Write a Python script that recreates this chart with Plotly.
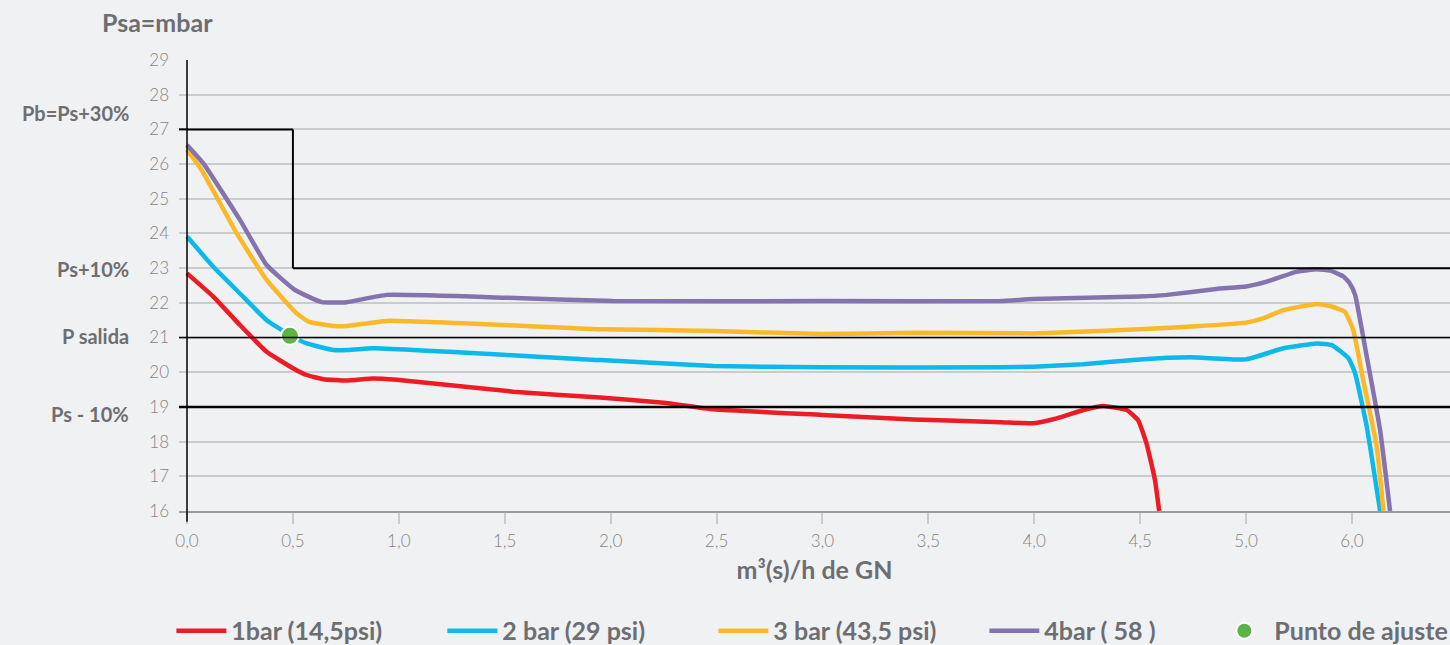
import plotly.graph_objects as go

# ---- data (x in plotted axis units; tick labels below) ----
x_tick_vals = [0, 0.5, 1.0, 1.5, 2.0, 2.5, 3.0, 3.5, 4.0, 4.5, 5.0, 5.5]
x_tick_text = ["0,0", "0,5", "1,0", "1,5", "2,0", "2,5", "3,0", "3,5", "4,0", "4,5", "5,0", "6,0"]
y_ticks = list(range(16, 30))

x_1bar = [0, 0.124, 0.25, 0.376, 0.502, 0.565, 0.644, 0.754, 0.88, 0.99, 1.54, 1.95, 2.25, 2.485,
          3.0, 3.43, 3.84, 3.996, 4.106, 4.232, 4.326, 4.437, 4.49, 4.53, 4.57, 4.59]
y_1bar = [22.85, 22.18, 21.36, 20.59, 20.11, 19.92, 19.8, 19.76, 19.82, 19.78, 19.44, 19.27, 19.12, 18.93,
          18.77, 18.64, 18.56, 18.53, 18.67, 18.91, 19.03, 18.91, 18.62, 17.95, 16.89, 16.0]

x_2bar = [0, 0.124, 0.25, 0.376, 0.486, 0.565, 0.691, 0.754, 0.88, 1.95, 2.485, 3.0, 3.84, 3.996,
          4.23, 4.5, 4.736, 5.0, 5.176, 5.334, 5.405, 5.484, 5.515, 5.57, 5.633]
y_2bar = [23.91, 23.04, 22.27, 21.5, 21.07, 20.83, 20.64, 20.64, 20.69, 20.35, 20.18, 20.14, 20.14, 20.16,
          20.23, 20.37, 20.43, 20.37, 20.69, 20.83, 20.78, 20.4, 19.97, 18.43, 16.0]

x_3bar = [0, 0.069, 0.235, 0.376, 0.51, 0.573, 0.699, 0.754, 0.943, 1.95, 2.485, 3.004, 3.43, 3.996,
          4.5, 4.78, 5.0, 5.08, 5.176, 5.334, 5.397, 5.467, 5.506, 5.553, 5.617, 5.649]
y_3bar = [26.41, 25.83, 24.0, 22.66, 21.74, 21.46, 21.33, 21.33, 21.48, 21.24, 21.19, 21.1, 21.14, 21.12,
          21.24, 21.33, 21.43, 21.55, 21.79, 21.97, 21.91, 21.74, 21.22, 19.78, 17.86, 16.0]

x_4bar = [0, 0.077, 0.25, 0.376, 0.51, 0.636, 0.754, 0.943, 1.5, 2.01, 3.0, 3.84, 3.996, 4.5, 4.626,
          4.86, 5.0, 5.098, 5.24, 5.334, 5.397, 5.46, 5.49, 5.515, 5.57, 5.633, 5.68]
y_4bar = [26.55, 26.02, 24.39, 23.09, 22.37, 22.02, 22.02, 22.23, 22.15, 22.05, 22.05, 22.05, 22.11, 22.18,
          22.23, 22.40, 22.47, 22.61, 22.9, 22.97, 22.93, 22.76, 22.56, 22.23, 20.45, 18.33, 16.0]

x_punto = [0.486]
y_punto = [21.05]

# reference levels
pb_level = 27
ps10_level = 23
psal_level = 21
psm10_level = 19
step_x = 0.5

series_names = ["1bar (14,5psi)", "2 bar (29 psi)", "3 bar (43,5 psi)", "4bar ( 58 )"]
series_colors = ["#ED1C24", "#0DB9EA", "#FBB829", "#8573B0"]

BG = "#F0F1F3"
GRAY_TXT = "#6D6E71"
TICK_TXT = "#858585"
LEG_FONT = dict(family="Lato", size=25, color=GRAY_TXT, weight="bold")

fig = go.Figure()
for xs, ys, name, col in zip([x_1bar, x_2bar, x_3bar, x_4bar],
                             [y_1bar, y_2bar, y_3bar, y_4bar],
                             series_names, series_colors):
    fig.add_trace(go.Scatter(x=xs, y=ys, mode="lines", name=name, legend="legend",
                             line=dict(color=col, width=4.5, shape="spline", smoothing=0.4)))

fig.add_trace(go.Scatter(x=x_punto, y=y_punto, mode="markers", name="Punto de ajuste", legend="legend2",
                         marker=dict(color="#5DB446", size=18, line=dict(color="white", width=2)),
                         cliponaxis=False))

shapes = [
    # y axis line
    dict(type="line", xref="x", yref="paper", x0=0, x1=0, y0=-0.024, y1=1,
         line=dict(color="black", width=1.5), layer="above"),
    # Pb = Ps+30% step
    dict(type="line", xref="paper", yref="y", x0=0, x1=0.007, y0=pb_level, y1=pb_level,
         line=dict(color="black", width=2)),
    dict(type="line", xref="x", yref="y", x0=0, x1=step_x, y0=pb_level, y1=pb_level,
         line=dict(color="black", width=2)),
    dict(type="line", xref="x", yref="y", x0=step_x, x1=step_x, y0=pb_level, y1=ps10_level,
         line=dict(color="black", width=2)),
    dict(type="line", xref="x", yref="y", x0=step_x, x1=10, y0=ps10_level, y1=ps10_level,
         line=dict(color="black", width=2)),
    # P salida and Ps-10%
    dict(type="line", xref="paper", yref="y", x0=0, x1=1, y0=psal_level, y1=psal_level,
         line=dict(color="black", width=1.5)),
    dict(type="line", xref="paper", yref="y", x0=0, x1=1, y0=psm10_level, y1=psm10_level,
         line=dict(color="black", width=2.5)),
]

annotations = []
for txt, yv in [("Pb=Ps+30%", 27.47), ("Ps+10%", 22.98), ("P salida", 21.05), ("Ps - 10%", 18.8)]:
    annotations.append(dict(text=txt, xref="paper", yref="y", x=-0.038, y=yv, xanchor="right",
                            yanchor="middle", showarrow=False,
                            font=dict(family="Lato", size=20, color=GRAY_TXT, weight="bold")))
annotations.append(dict(text="Psa=mbar", xref="paper", yref="paper", x=-0.017, y=1.084,
                        xanchor="center", yanchor="middle", showarrow=False,
                        font=dict(family="Lato", size=25, color=GRAY_TXT, weight="bold")))

fig.update_layout(
    width=1450, height=645,
    margin=dict(l=179, r=0, t=60, b=134, autoexpand=False),
    paper_bgcolor=BG, plot_bgcolor=BG,
    font=dict(family="Lato", color=TICK_TXT),
    shapes=shapes,
    annotations=annotations,
    showlegend=True,
    legend=dict(orientation="h", x=-0.006, xanchor="left", y=-0.266, yanchor="middle",
                font=LEG_FONT, itemwidth=50, entrywidth=206, entrywidthmode="pixels",
                bgcolor="rgba(0,0,0,0)", traceorder="normal"),
    legend2=dict(orientation="h", x=0.8146, xanchor="left", y=-0.266, yanchor="middle",
                 font=LEG_FONT, itemwidth=50, bgcolor="rgba(0,0,0,0)"),
    xaxis=dict(range=[-0.0378, 5.963], tickvals=x_tick_vals, ticktext=x_tick_text,
               showgrid=False, zeroline=False, showline=True, linecolor="#9B9B9B", linewidth=2,
               ticks="outside", ticklen=11, tickcolor="#CCCCCC", tickwidth=1.5,
               ticklabelstandoff=3,
               tickfont=dict(family="Lato", size=17, color=TICK_TXT, weight=300),
               title=dict(text="m³(s)/h de GN", standoff=11,
                          font=dict(family="Lato", size=25, color=GRAY_TXT, weight="bold"))),
    yaxis=dict(range=[16, 29], tickvals=y_ticks, showgrid=True, gridcolor="#CACBCD", gridwidth=1.5,
               zeroline=False, showline=False, ticks="",
               ticklabelstandoff=9,
               tickfont=dict(family="Lato", size=17, color=TICK_TXT, weight=300)),
)

fig.write_html("out.html", config={"displayModeBar": False},
               post_script="document.body.style.margin='0';document.body.style.overflow='hidden';"
                           "document.body.style.background='#F0F1F3';")
